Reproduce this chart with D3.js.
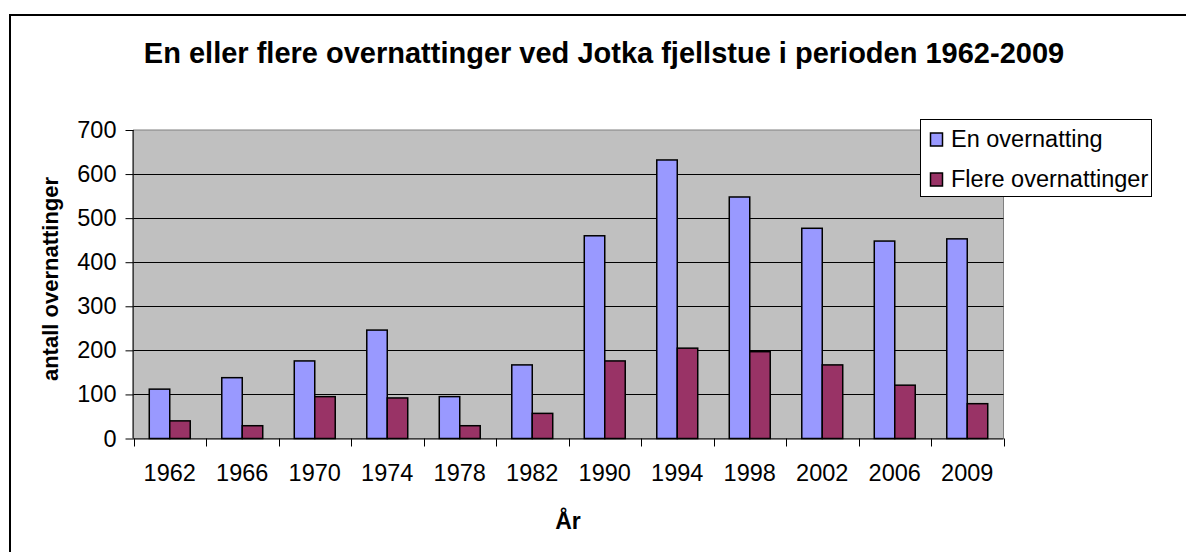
<!DOCTYPE html>
<html><head><meta charset="utf-8">
<script src="https://cdn.jsdelivr.net/npm/d3@7"></script>
<style>body{margin:0;background:#fff}svg{display:block;font-family:"Liberation Sans",Arial,sans-serif}</style>
</head><body>
<script>
const categories = ["1962","1966","1970","1974","1978","1982","1990","1994","1998","2002","2006","2009"];
const enOvernatting = [112,138,176,246,95,167,460,632,548,477,448,453];
const flereOvernattinger = [40,29,95,92,29,57,176,205,197,167,121,79];
const seriesNames = ["En overnatting","Flere overnattinger"];
const seriesColors = ["#9999ff","#993366"];
const yTicks = [0,100,200,300,400,500,600,700];
const title = "En eller flere overnattinger ved Jotka fjellstue i perioden 1962-2009";
const yTitle = "antall overnattinger";
const xTitle = "År";

const W = 1186, H = 552;
const svg = d3.select("body").append("svg").attr("width", W).attr("height", H);
svg.append("rect").attr("width", W).attr("height", H).attr("fill", "#fff");
svg.append("rect").attr("x", 10).attr("y", 15).attr("width", 1300).attr("height", 700)
  .attr("fill", "none").attr("stroke", "#000").attr("stroke-width", 2);

const L = 133.5, R = 1003.5, T = 130, B = 438.5;
const x = d3.scaleBand().domain(categories).range([L, R]).padding(0);
const y = d3.scaleLinear().domain([0, 700]).range([B, T]);
const groupW = x.bandwidth() * 0.565;
const xs = d3.scaleBand().domain([0,1]).range([0, groupW]).padding(0);

svg.append("rect").attr("x", L).attr("y", T).attr("width", R - L).attr("height", B - T)
  .attr("fill", "#c0c0c0").attr("stroke", "#808080").attr("stroke-width", 1);

svg.append("g").selectAll("line").data(yTicks.filter(d => d > 0 && d < 700)).join("line")
  .attr("x1", L).attr("x2", R).attr("y1", d => Math.round(y(d)) + 0.5).attr("y2", d => Math.round(y(d)) + 0.5)
  .attr("stroke", "#000").attr("stroke-width", 1);

const data = [enOvernatting, flereOvernattinger];
data.forEach((vals, si) => {
  svg.append("g").selectAll("rect").data(vals).join("rect")
    .attr("x", (d, i) => x(categories[i]) + (x.bandwidth() - groupW) / 2 + xs(si))
    .attr("y", d => y(d))
    .attr("width", xs.bandwidth())
    .attr("height", d => B - y(d))
    .attr("fill", seriesColors[si]).attr("stroke", "#000").attr("stroke-width", 1.5);
});

// y axis
const ya = svg.append("g").attr("transform", `translate(${L},0)`)
  .call(d3.axisLeft(y).tickValues(yTicks).tickSize(8).tickPadding(9).tickFormat(d3.format("d")));
ya.select(".domain").attr("stroke", "#000").attr("d", `M-0.5,${T}V${B}`);
ya.selectAll(".tick line").attr("stroke", "#000");
ya.selectAll("text").attr("font-size", 23.5).attr("fill", "#000").attr("font-family", "Liberation Sans, Arial, sans-serif");

// x axis
const xa = svg.append("g").attr("transform", `translate(0,${B})`)
  .call(d3.axisBottom(x).tickSize(0).tickPadding(26));
xa.select(".domain").attr("stroke", "#000").attr("d", `M${L},0.5H${R}`);
xa.selectAll("text").attr("font-size", 23.5).attr("fill", "#000").attr("font-family", "Liberation Sans, Arial, sans-serif");
const bounds = categories.map(c => x(c)).concat([R]);
svg.append("g").selectAll("line").data(bounds).join("line")
  .attr("x1", d => Math.round(d) + 0.5).attr("x2", d => Math.round(d) + 0.5)
  .attr("y1", B).attr("y2", B + 8).attr("stroke", "#000");

// titles
svg.append("text").attr("x", 604).attr("y", 63).attr("text-anchor", "middle")
  .attr("font-size", 29).attr("font-weight", "bold").text(title);
svg.append("text").attr("transform", `translate(58,${279}) rotate(-90)`).attr("text-anchor", "middle")
  .attr("font-size", 22).attr("font-weight", "bold").text(yTitle);
svg.append("text").attr("x", 568).attr("y", 529).attr("text-anchor", "middle")
  .attr("font-size", 23).attr("font-weight", "bold").text(xTitle);

// legend
const lg = svg.append("g");
lg.append("rect").attr("x", 920.5).attr("y", 119.5).attr("width", 231).attr("height", 77)
  .attr("fill", "#fff").attr("stroke", "#000").attr("stroke-width", 1);
seriesNames.forEach((n, i) => {
  const yy = 133 + i * 40;
  lg.append("rect").attr("x", 930.5).attr("y", yy).attr("width", 12).attr("height", 13)
    .attr("fill", seriesColors[i]).attr("stroke", "#000").attr("stroke-width", 1.5);
  lg.append("text").attr("x", 951).attr("y", yy + 14).attr("font-size", 23.5).text(n);
});
</script>
</body></html>
